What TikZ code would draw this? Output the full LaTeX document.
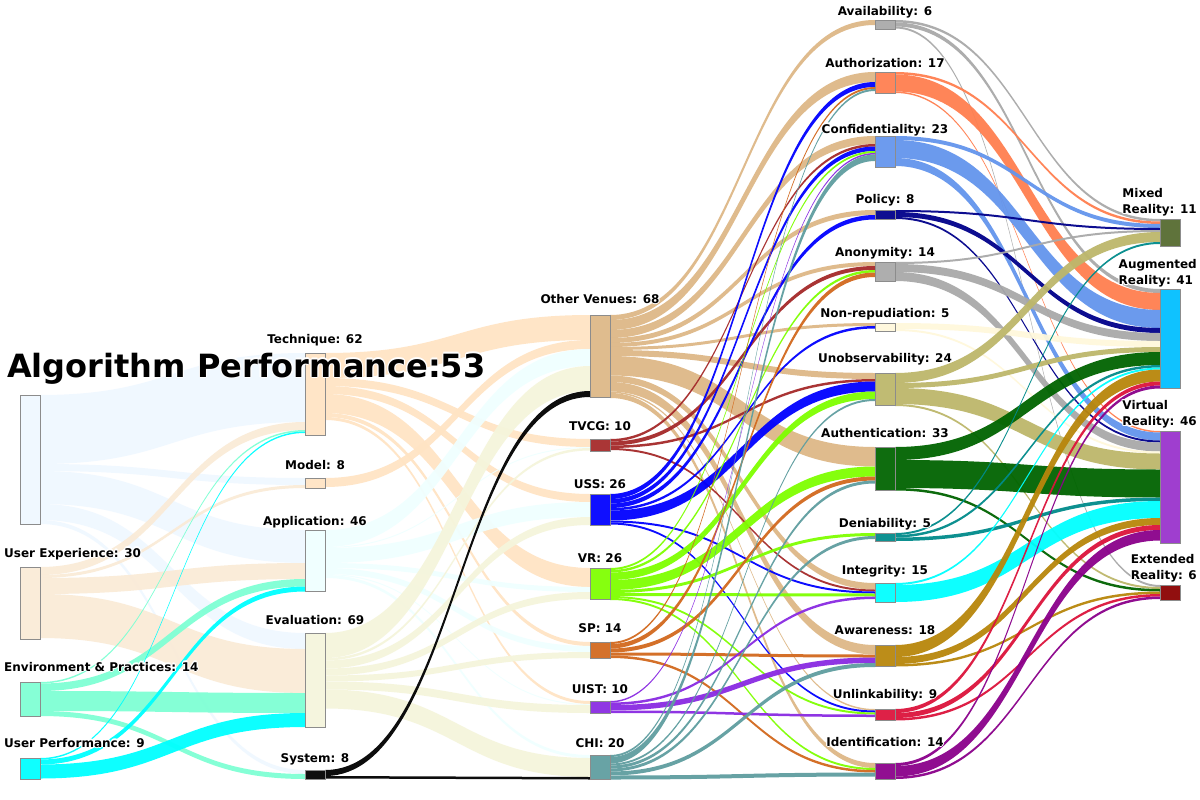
\documentclass[tikz,border=0pt]{standalone}
\usepackage{fontspec}
\setmainfont{DejaVu Sans}
\pgfdeclarelayer{paper}
\pgfdeclarelayer{links}
\pgfsetlayers{paper,links,main}
% node colours
\definecolor{cAP}{HTML}{F0F8FF}
\definecolor{cUE}{HTML}{FAEBD7}
\definecolor{cEP}{HTML}{7FFFD4}
\definecolor{cUP}{HTML}{00FFFF}
\definecolor{cTech}{HTML}{FFE4C4}
\definecolor{cModel}{HTML}{FFE4C4}
\definecolor{cApp}{HTML}{F0FFFF}
\definecolor{cEval}{HTML}{F5F5DC}
\definecolor{cSys}{HTML}{000000}
\definecolor{cOV}{HTML}{DEB887}
\definecolor{cTVCG}{HTML}{A52A2A}
\definecolor{cUSS}{HTML}{0000FF}
\definecolor{cVRv}{HTML}{7FFF00}
\definecolor{cSP}{HTML}{D2691E}
\definecolor{cUIST}{HTML}{8A2BE2}
\definecolor{cCHI}{HTML}{5F9EA0}
\definecolor{cAvail}{HTML}{A9A9A9}
\definecolor{cAuthz}{HTML}{FF7F50}
\definecolor{cConf}{HTML}{6495ED}
\definecolor{cPolicy}{HTML}{00008B}
\definecolor{cAnon}{HTML}{A9A9A9}
\definecolor{cNonRep}{HTML}{FFF8DC}
\definecolor{cUnobs}{HTML}{BDB76B}
\definecolor{cAuthn}{HTML}{006400}
\definecolor{cDeni}{HTML}{008B8B}
\definecolor{cInteg}{HTML}{00FFFF}
\definecolor{cAware}{HTML}{B8860B}
\definecolor{cUnlink}{HTML}{DC143C}
\definecolor{cIdent}{HTML}{8B008B}
\definecolor{cMR}{HTML}{556B2F}
\definecolor{cAR}{HTML}{00BFFF}
\definecolor{cVRe}{HTML}{9932CC}
\definecolor{cER}{HTML}{8B0000}
\tikzset{
  nd/.style={draw=black!45, line width=0.5pt, minimum width=20pt, inner sep=0pt, outer sep=0pt, fill opacity=0.94},
  lk/.style={fill opacity=0.95},
  lab/.style={font=\bfseries\fontsize{12}{16}\selectfont, inner sep=0pt, text=black},
  biglab/.style={font=\bfseries\fontsize{32}{38}\selectfont, inner sep=0pt, text=black},
}
\newcommand\mknode[4]{%
  \node[nd, fill=c#1, minimum height=#4pt, anchor=north west] (#1) at (#2,#3) {};%
  \expandafter\gdef\csname oo@#1\endcsname{0}%
  \expandafter\gdef\csname ii@#1\endcsname{0}%
}
\newcommand\lnk[3]{%
  \pgfmathsetmacro\lkA{\csname oo@#1\endcsname}%
  \pgfmathsetmacro\lkB{\csname ii@#2\endcsname}%
  \pgfmathsetmacro\lkAe{\lkA+#3}%
  \pgfmathsetmacro\lkBe{\lkB+#3}%
  \begin{pgfonlayer}{links}%
  \fill[lk, c#1] ([yshift=-\lkA pt]#1.north east)
    .. controls ([xshift=132.5pt,yshift=-\lkA pt]#1.north east) and ([xshift=-132.5pt,yshift=-\lkB pt]#2.north west)
    .. ([yshift=-\lkB pt]#2.north west) -- ([yshift=-\lkBe pt]#2.north west)
    .. controls ([xshift=-132.5pt,yshift=-\lkBe pt]#2.north west) and ([xshift=132.5pt,yshift=-\lkAe pt]#1.north east)
    .. ([yshift=-\lkAe pt]#1.north east) -- cycle;%
  \end{pgfonlayer}%
  \expandafter\xdef\csname oo@#1\endcsname{\lkAe}%
  \expandafter\xdef\csname ii@#2\endcsname{\lkBe}%
}
% label with a white halo: style, name, x, y, text
\newcommand\hlab[5]{%
  \foreach \ha in {0,45,...,315}{\node[#1, text=white] (#2h\ha) at ([shift={(\ha:1.1pt)}]#3,#4) {#5};}%
  \node[#1] (#2) at (#3,#4) {#5};%
}
\begin{document}
\begin{tikzpicture}[x=1pt,y=-1pt]
\begin{pgfonlayer}{paper}
\fill[white] (0,0) rectangle (1200,800);
\end{pgfonlayer}
\useasboundingbox (0,0) rectangle (1200,800);
% ---------- nodes ----------
\mknode{AP}{20}{395}{129}
\mknode{UE}{20}{567}{72}
\mknode{EP}{20}{682}{34}
\mknode{UP}{20}{758}{21}
\mknode{Tech}{305}{353}{82}
\mknode{Model}{305}{478}{10}
\mknode{App}{305}{530}{61}
\mknode{Eval}{305}{633}{94}
\mknode{Sys}{305}{770}{9}
\mknode{OV}{590}{315}{82}
\mknode{TVCG}{590}{439}{12}
\mknode{USS}{590}{494}{31}
\mknode{VRv}{590}{568}{31}
\mknode{SP}{590}{642}{16}
\mknode{UIST}{590}{701}{12}
\mknode{CHI}{590}{755}{24}
\mknode{Avail}{875}{20}{9}
\mknode{Authz}{875}{72}{21}
\mknode{Conf}{875}{136}{31}
\mknode{Policy}{875}{210}{9}
\mknode{Anon}{875}{262}{19}
\mknode{NonRep}{875}{323}{8}
\mknode{Unobs}{875}{373}{32}
\mknode{Authn}{875}{447}{43}
\mknode{Deni}{875}{533}{8}
\mknode{Integ}{875}{583}{19}
\mknode{Aware}{875}{645}{21}
\mknode{Unlink}{875}{709}{11}
\mknode{Ident}{875}{763}{16}
\mknode{MR}{1160}{219}{27}
\mknode{AR}{1160}{289}{99}
\mknode{VRe}{1160}{431}{112}
\mknode{ER}{1160}{585}{15}
% ---------- links: column 1 -> 2 ----------
\lnk{AP}{Tech}{69}
\lnk{AP}{Model}{7}
\lnk{AP}{App}{33}
\lnk{AP}{Eval}{16}
\lnk{AP}{Sys}{4}
\lnk{UE}{Tech}{8}
\lnk{UE}{Model}{3}
\lnk{UE}{App}{16}
\lnk{UE}{Eval}{44}
\lnk{EP}{Tech}{1.5}
\lnk{EP}{App}{7.5}
\lnk{EP}{Eval}{20}
\lnk{EP}{Sys}{5}
\lnk{UP}{Tech}{1.5}
\lnk{UP}{App}{5}
\lnk{UP}{Eval}{14}
% ---------- column 2 -> 3 ----------
\lnk{Tech}{OV}{25}
\lnk{Tech}{TVCG}{8}
\lnk{Tech}{USS}{8}
\lnk{Tech}{VRv}{19}
\lnk{Tech}{SP}{4}
\lnk{Tech}{UIST}{3}
\lnk{Model}{OV}{9}
\lnk{App}{OV}{17}
\lnk{App}{TVCG}{1}
\lnk{App}{USS}{15}
\lnk{App}{VRv}{5}
\lnk{App}{SP}{6}
\lnk{App}{UIST}{1}
\lnk{App}{CHI}{3}
\lnk{Eval}{OV}{25}
\lnk{Eval}{TVCG}{2.5}
\lnk{Eval}{USS}{8}
\lnk{Eval}{VRv}{7}
\lnk{Eval}{SP}{6}
\lnk{Eval}{UIST}{8}
\lnk{Eval}{CHI}{19}
\lnk{Sys}{OV}{6}
\lnk{Sys}{CHI}{2.5}
% ---------- column 3 -> 4 ----------
\lnk{OV}{Avail}{5}
\lnk{OV}{Authz}{10}
\lnk{OV}{Conf}{8}
\lnk{OV}{Policy}{5}
\lnk{OV}{Anon}{4}
\lnk{OV}{NonRep}{3}
\lnk{OV}{Unobs}{6}
\lnk{OV}{Authn}{19.5}
\lnk{OV}{Integ}{6.5}
\lnk{OV}{Aware}{9.5}
\lnk{OV}{Unlink}{1.5}
\lnk{OV}{Ident}{5}
\lnk{TVCG}{Conf}{2.5}
\lnk{TVCG}{Anon}{4}
\lnk{TVCG}{Unobs}{2.5}
\lnk{TVCG}{Integ}{2}
\lnk{USS}{Authz}{5}
\lnk{USS}{Conf}{4.5}
\lnk{USS}{Policy}{4.5}
\lnk{USS}{NonRep}{2.5}
\lnk{USS}{Unobs}{10}
\lnk{USS}{Integ}{2}
\lnk{USS}{Unlink}{2}
\lnk{VRv}{Conf}{2}
\lnk{VRv}{Anon}{2.5}
\lnk{VRv}{Unobs}{7.5}
\lnk{VRv}{Authn}{10}
\lnk{VRv}{Deni}{3}
\lnk{VRv}{Integ}{3}
\lnk{VRv}{Unlink}{2}
\lnk{VRv}{Ident}{2}
\lnk{SP}{Authz}{2}
\lnk{SP}{Anon}{4.5}
\lnk{SP}{Authn}{4}
\lnk{SP}{Aware}{3}
\lnk{SP}{Ident}{2.5}
\lnk{UIST}{Conf}{1.5}
\lnk{UIST}{Integ}{2.5}
\lnk{UIST}{Aware}{5.5}
\lnk{UIST}{Unlink}{2.5}
\lnk{CHI}{Authz}{2}
\lnk{CHI}{Conf}{6.5}
\lnk{CHI}{Unobs}{2}
\lnk{CHI}{Authn}{3}
\lnk{CHI}{Deni}{3}
\lnk{CHI}{Aware}{4}
\lnk{CHI}{Ident}{4}
% ---------- column 4 -> 5 ----------
\lnk{Avail}{MR}{2.5}
\lnk{Avail}{AR}{4}
\lnk{Avail}{ER}{2}
\lnk{Authz}{MR}{2.5}
\lnk{Authz}{AR}{17}
\lnk{Authz}{VRe}{1.5}
\lnk{Conf}{MR}{4}
\lnk{Conf}{AR}{18}
\lnk{Conf}{VRe}{8}
\lnk{Policy}{MR}{2}
\lnk{Policy}{AR}{5}
\lnk{Policy}{VRe}{2}
\lnk{Anon}{MR}{2}
\lnk{Anon}{AR}{8}
\lnk{Anon}{VRe}{9}
\lnk{NonRep}{AR}{6}
\lnk{NonRep}{VRe}{2}
\lnk{Unobs}{MR}{10}
\lnk{Unobs}{AR}{5}
\lnk{Unobs}{VRe}{16}
\lnk{Unobs}{ER}{2}
\lnk{Authn}{AR}{13}
\lnk{Authn}{VRe}{28}
\lnk{Authn}{ER}{2.5}
\lnk{Deni}{MR}{2}
\lnk{Deni}{AR}{2.5}
\lnk{Deni}{VRe}{3.5}
\lnk{Integ}{AR}{2}
\lnk{Integ}{VRe}{17}
\lnk{Aware}{AR}{12}
\lnk{Aware}{VRe}{7}
\lnk{Aware}{ER}{2.5}
\lnk{Unlink}{AR}{4}
\lnk{Unlink}{VRe}{5}
\lnk{Unlink}{ER}{2.5}
\lnk{Ident}{AR}{3}
\lnk{Ident}{VRe}{10.5}
\lnk{Ident}{ER}{2.5}
% ---------- labels ----------
\hlab{biglab, anchor=base west}{lAP}{7}{377}{Algorithm Performance:53}
\hlab{lab, anchor=base west}{lUE}{4}{557}{User Experience: 30}
\hlab{lab, anchor=base west}{lEP}{4}{671}{Environment \& Practices: 14}
\hlab{lab, anchor=base west}{lUP}{4}{747}{User Performance: 9}
\hlab{lab, anchor=base}{lTech}{315}{343}{Technique: 62}
\hlab{lab, anchor=base}{lModel}{315}{469}{Model: 8}
\hlab{lab, anchor=base}{lApp}{315}{525}{Application: 46}
\hlab{lab, anchor=base}{lEval}{315}{624}{Evaluation: 69}
\hlab{lab, anchor=base}{lSys}{315}{762}{System: 8}
\hlab{lab, anchor=base}{lOV}{600}{303}{Other Venues: 68}
\hlab{lab, anchor=base}{lTVCG}{600}{430}{TVCG: 10}
\hlab{lab, anchor=base}{lUSS}{600}{488}{USS: 26}
\hlab{lab, anchor=base}{lVRv}{600}{562}{VR: 26}
\hlab{lab, anchor=base}{lSP}{600}{632}{SP: 14}
\hlab{lab, anchor=base}{lUIST}{600}{693}{UIST: 10}
\hlab{lab, anchor=base}{lCHI}{600}{747}{CHI: 20}
\hlab{lab, anchor=base}{lAvail}{885}{16}{Availability: 6}
\hlab{lab, anchor=base}{lAuthz}{885}{68}{Authorization: 17}
\hlab{lab, anchor=base}{lConf}{885}{133}{Confidentiality: 23}
\hlab{lab, anchor=base}{lPolicy}{885}{203}{Policy: 8}
\hlab{lab, anchor=base}{lAnon}{885}{256}{Anonymity: 14}
\hlab{lab, anchor=base}{lNonRep}{885}{317}{Non-repudiation: 5}
\hlab{lab, anchor=base}{lUnobs}{885}{362}{Unobservability: 24}
\hlab{lab, anchor=base}{lAuthn}{885}{437}{Authentication: 33}
\hlab{lab, anchor=base}{lDeni}{885}{527}{Deniability: 5}
\hlab{lab, anchor=base}{lInteg}{885}{574}{Integrity: 15}
\hlab{lab, anchor=base}{lAware}{885}{634}{Awareness: 18}
\hlab{lab, anchor=base}{lUnlink}{885}{698}{Unlinkability: 9}
\hlab{lab, anchor=base}{lIdent}{885}{746}{Identification: 14}
\hlab{lab, align=left, anchor=north east}{lMR}{1197}{188}{Mixed\\Reality: 11}
\hlab{lab, align=left, anchor=north east}{lAR}{1197}{259}{Augmented\\Reality: 41}
\hlab{lab, align=left, anchor=north east}{lVRe}{1197}{400}{Virtual\\Reality: 46}
\hlab{lab, align=left, anchor=north east}{lER}{1197}{554}{Extended\\Reality: 6}
\end{tikzpicture}
\end{document}
